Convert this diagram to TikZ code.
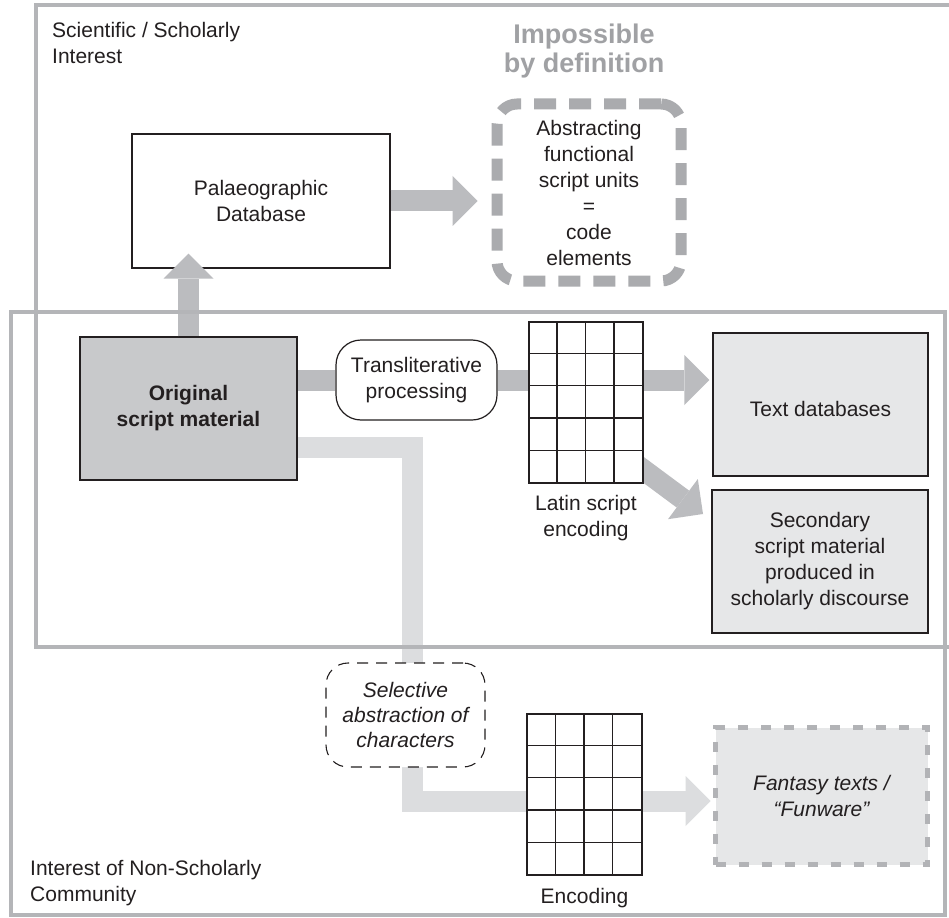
\documentclass[tikz,border=0pt]{standalone}
\usepackage{fontspec}
\setmainfont{Liberation Sans}
\usetikzlibrary{arrows.meta}
\pgfdeclarelayer{background}
\pgfdeclarelayer{foreground}
\pgfsetlayers{background,main,foreground}

\definecolor{framegray}{RGB}{180,181,184}
\definecolor{bargray}{RGB}{187,188,191}
\definecolor{lightbar}{RGB}{220,221,223}
\definecolor{origfill}{RGB}{200,201,203}
\definecolor{boxfill}{RGB}{230,231,232}
\definecolor{dashgray}{RGB}{170,171,174}
\definecolor{titlegray}{RGB}{160,161,164}
\definecolor{dotgray}{RGB}{178,179,182}
\definecolor{ink}{RGB}{35,31,32}

\tikzset{
  txt/.style={font=\fontsize{21}{26}\selectfont, text=ink, align=center},
  plainbox/.style={txt, draw=ink, line width=1.2pt, inner sep=0pt},
  gridbox/.style={draw=ink, line width=1.2pt, fill=white, inner sep=0pt},
  cellrule/.style={draw=ink, line width=1.2pt},
  bar/.style={draw=bargray, line width=21pt},
  lightpath/.style={draw=lightbar, line width=21pt, line join=miter},
  fathead/.style={-{Triangle[width=50pt,length=25pt,line width=0pt 0 0]}},
  field/.style={draw=framegray, line width=4.5pt},
}

% cells of a code table inside node #1: 4 columns of width #2, 5 rows of height #3
\newcommand\codetable[3]{%
  \foreach \k in {1,2,3}
    \draw[cellrule] (#1.north west) ++(\k*#2,0) -- ++(0,5*#3);
  \foreach \k in {1,2,3,4}
    \draw[cellrule] (#1.north west) ++(0,\k*#3) -- ++(4*#2,0);
}

\begin{document}
\begin{tikzpicture}[x=1pt,y=-1pt]
\useasboundingbox (0,0) rectangle (949,917);
\begin{pgfonlayer}{background}
  \fill[white] (0,0) rectangle (949,917);
\end{pgfonlayer}

% upper part: palaeography
\node[plainbox, fill=white, minimum width=258pt, minimum height=134pt] (pal) at (261,201) {Palaeographic\\Database};
\node[txt, draw=dashgray, line width=11pt, rounded corners=20pt,
      dash pattern=on 22pt off 13pt, fill=white,
      minimum width=184pt, minimum height=177pt, inner sep=0pt] (imp) at (589,192.5)
      {Abstracting\\functional\\script units\\=\\code\\elements};
\node[txt, font=\bfseries\fontsize{27}{29}\selectfont, text=titlegray, anchor=north, inner sep=0pt]
      (title) at (584,23.5) {Impossible\\by definition};

% middle part: scholarly processing
\node[plainbox, fill=origfill, font=\bfseries\fontsize{21}{26}\selectfont,
      minimum width=217pt, minimum height=143pt] (orig) at (188.5,408.5) {Original\\script material};
\node[plainbox, fill=white, rounded corners=25pt, minimum width=161pt, minimum height=80pt]
      (trans) at (416.5,380) {Transliterative\\processing};
\node[gridbox, minimum width=114pt, minimum height=161pt] (lat) at (586,402.5) {};
\node[txt, anchor=north, inner sep=0pt] (latlbl) at (586,494.7) {Latin script\\encoding};
\node[plainbox, fill=boxfill, minimum width=215pt, minimum height=143pt, text height=24pt] (txtdb) at (820.5,404.5) {Text databases};
\node[plainbox, fill=boxfill, minimum width=216pt, minimum height=143pt] (sec) at (820,561.5)
      {Secondary\\script material\\produced in\\scholarly discourse};

% lower part: non-scholarly use
\node[txt, font=\itshape\fontsize{21}{25}\selectfont, draw=ink, line width=1.1pt,
      dash pattern=on 11pt off 8pt, rounded corners=22pt, fill=white,
      minimum width=159pt, minimum height=104pt, inner sep=0pt] (sel) at (405.5,715)
      {Selective\\abstraction of\\characters};
\node[gridbox, minimum width=115pt, minimum height=161pt] (enc) at (584.5,794.5) {};
\node[txt, anchor=base, inner sep=0pt] (enclbl) at (584.5,903) {Encoding};
\node[txt, font=\itshape\fontsize{21}{26}\selectfont, draw=dotgray, line width=5pt,
      dash pattern=on 10pt off 13pt, fill=boxfill, inner sep=0pt,
      minimum width=212pt, minimum height=137pt] (fan) at (821.5,796) {Fantasy texts /\\“Funware”};

% field labels
\node[txt, align=left, anchor=north west, inner sep=0pt] (scilbl) at (52,21.7) {Scientific / Scholarly\\Interest};
\node[txt, align=left, anchor=north west, inner sep=0pt] (comlbl) at (30,859.7) {Interest of Non-Scholarly\\Community};

% cells of the two encodings
\codetable{lat}{28.5}{32.2}
\codetable{enc}{28.75}{32.2}

% connectors
\coordinate (bendA) at (412.5,447);
\coordinate (bendB) at (412.5,801);
\coordinate (diagstart) at (610,445);
\coordinate (diagtip) at (703,514);

\draw[bar, fathead] (orig.north) -- ([yshift=15pt]pal.south -| orig.north);
\draw[bar, fathead] (pal.east) -- ([xshift=-14pt]pal.east -| imp.west);

\begin{pgfonlayer}{background}
  \draw[lightpath, fathead, shorten >=2.5pt] ([yshift=-38.5pt]orig.east) -- (bendA) -- (bendB) -- (bendB -| fan.west);
  \draw[bar] (trans.west -| orig.east) -- (trans.west);
  \draw[bar] (trans.east) -- (trans.east -| lat.west);
  \draw[bar, fathead, shorten >=3pt] (trans.east -| lat.east) -- (trans.east -| txtdb.west);
  \draw[bar, fathead] (diagstart) -- (diagtip);
\end{pgfonlayer}

% the two fields of interest
\begin{pgfonlayer}{foreground}
  \draw[field] (36,5) rectangle (960,647);
  \draw[field] (11,312) rectangle (945,915);
\end{pgfonlayer}
\end{tikzpicture}
\end{document}
